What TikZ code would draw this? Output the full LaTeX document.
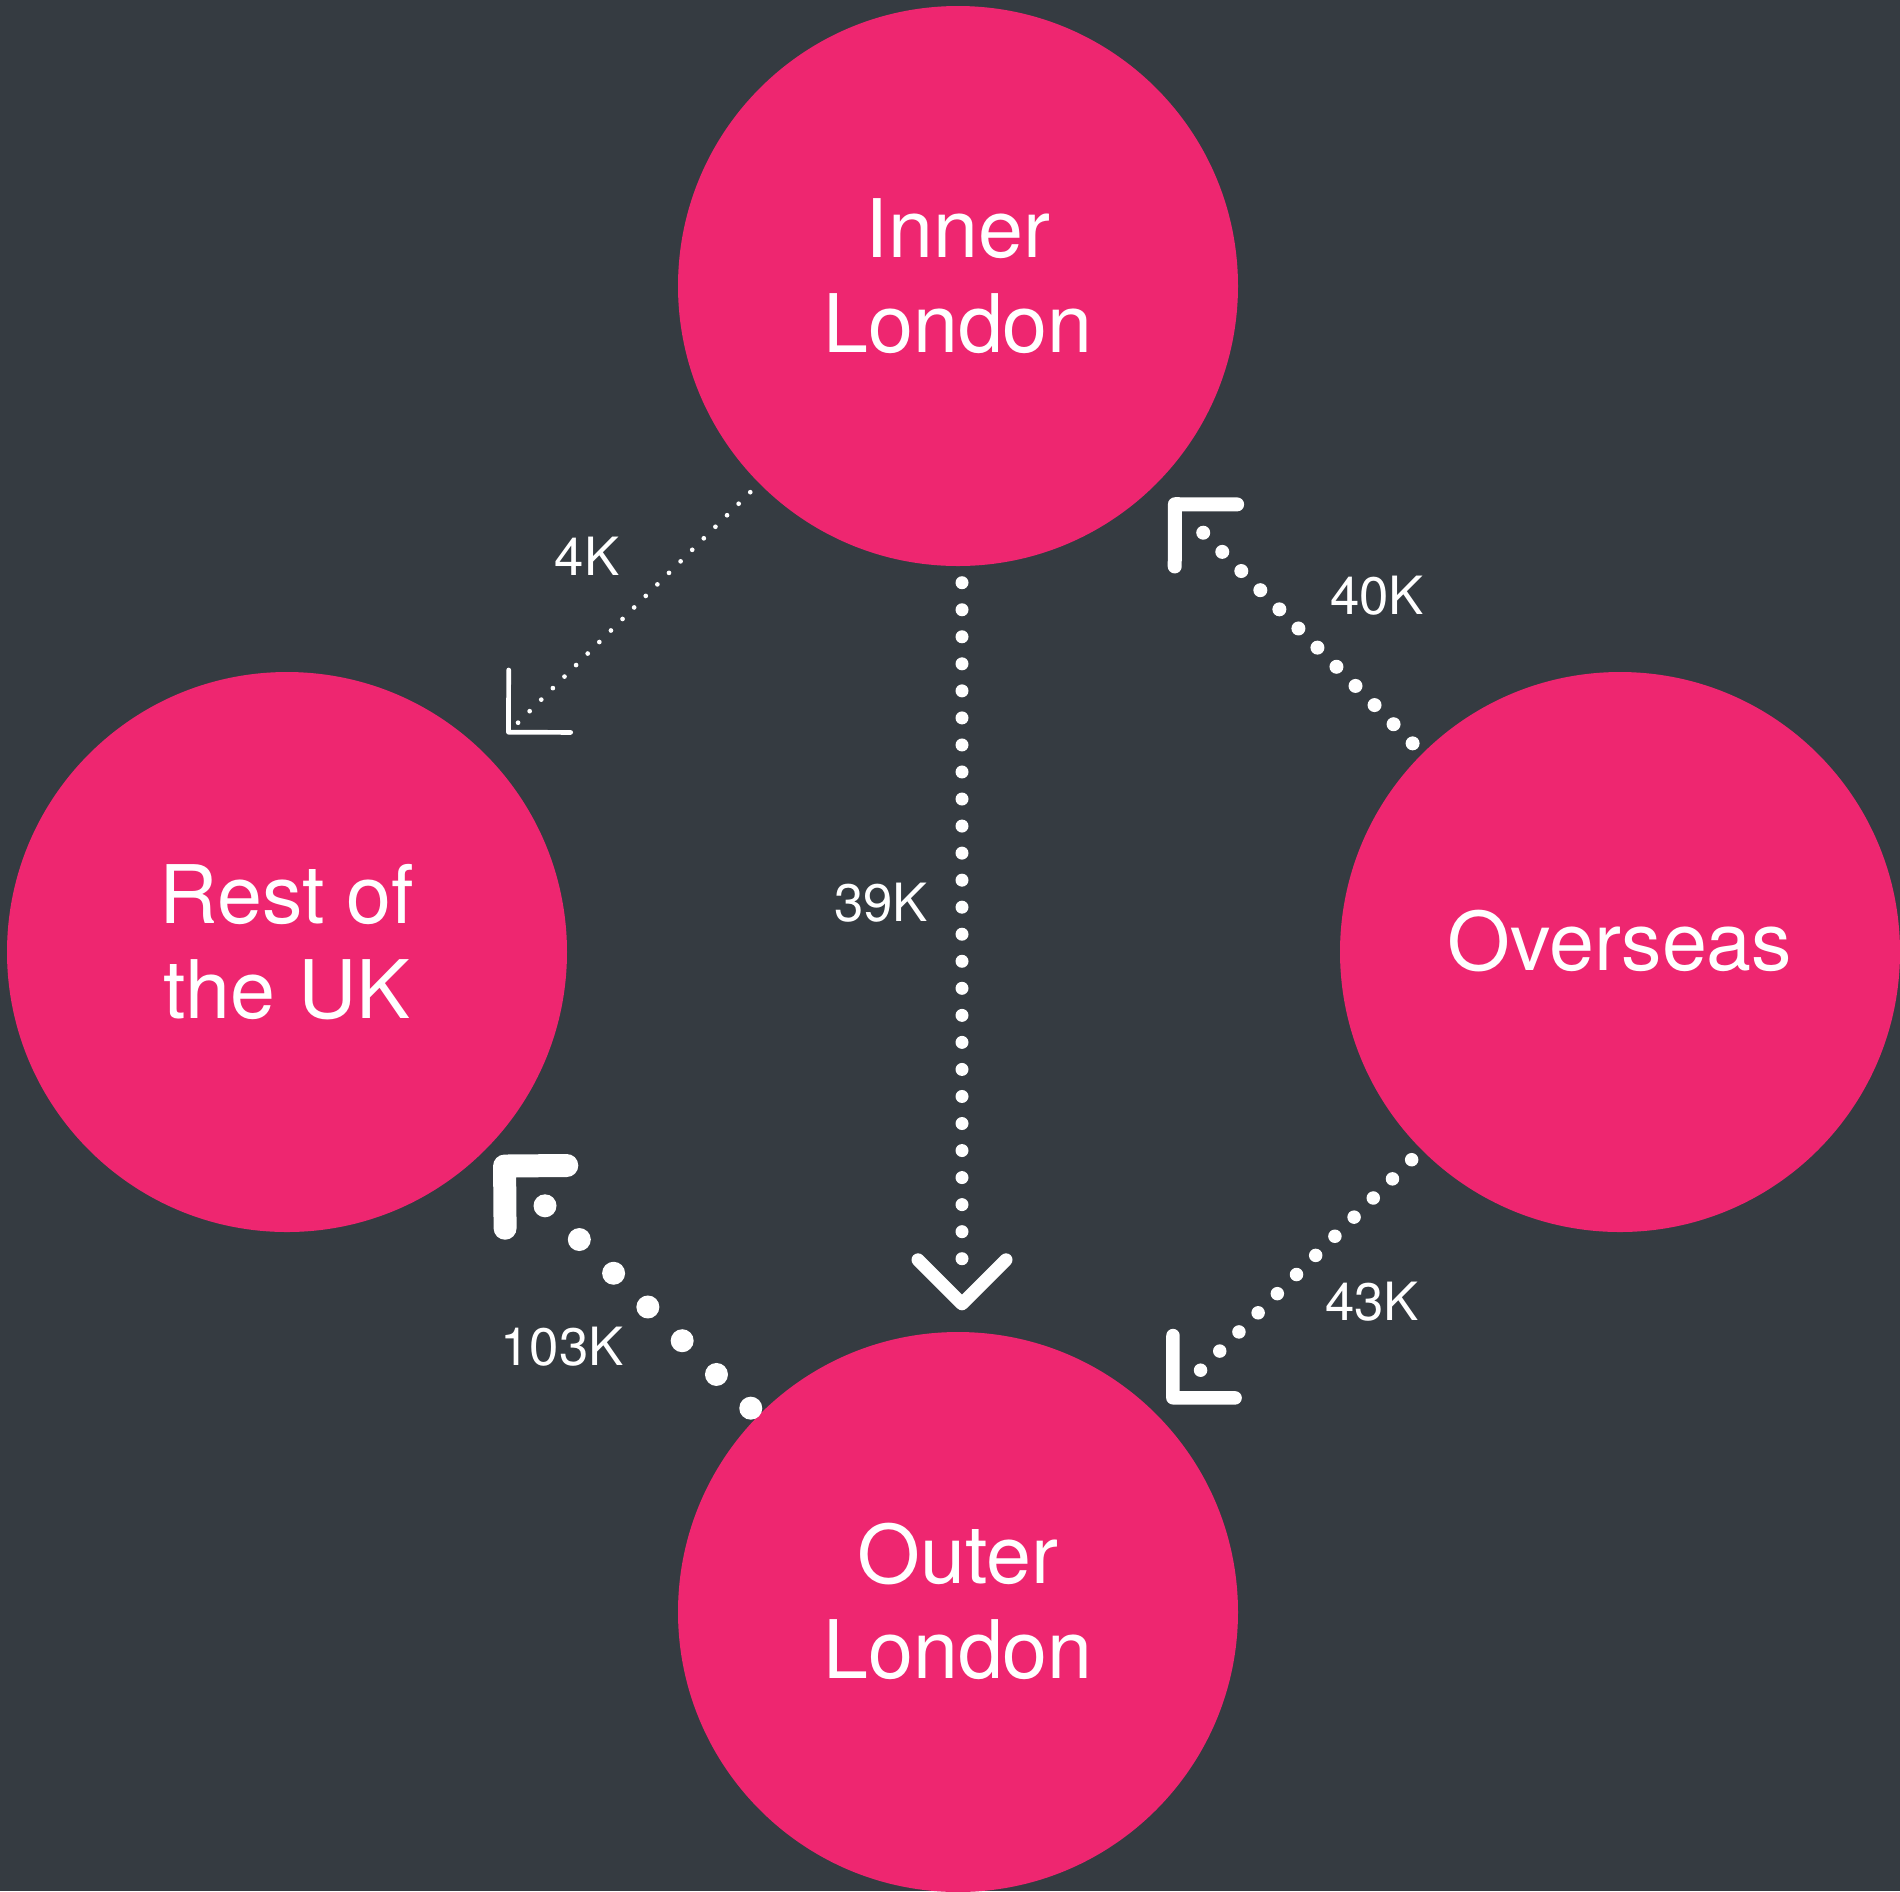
\documentclass[tikz,border=0pt]{standalone}
\usepackage{fontspec}
\setmainfont{TeX Gyre Heros}
\usetikzlibrary{arrows.meta}
\definecolor{slate}{HTML}{353B41}
\definecolor{rosepink}{HTML}{EE2670}
\tikzset{
  region/.style  = {shape=circle, fill=rosepink, minimum size=56mm,
                    inner sep=0pt, text=white, align=center,
                    font=\fontsize{23}{27}\selectfont},
  amount/.style  = {text=white, inner sep=0pt, font=\fontsize{15}{18}\selectfont},
  flow/.style n args = {5}{draw=white, line cap=round, line width=#1,
                    dash pattern=on 0pt off #2, shorten <=#3, shorten >=#4,
                    postaction={draw, line cap=butt, dash pattern=on 0pt off 100cm,
                                dash phase=1pt, shorten >=#5,
                                -{Straight Barb[round, length=4.4mm, width=8.8mm]}}}
}

\begin{document}
\begin{tikzpicture}
  [
    x = 0.1mm,
    y = -0.1mm
  ]
  \fill [slate] (0,0) rectangle (1900,1891);
  \useasboundingbox (0,0) rectangle (1900,1891);

  \node [region] (inner)    at (958,286)  {\strut Inner\\London\strut};
  \node [region] (rest)     at (287,952)  {\strut Rest of\\the UK\strut};
  \node [region] (overseas) at (1620,952) {\strut Overseas};
  \node [region] (outer)    at (958,1612) {\strut Outer\\London\strut};

  \draw [flow={0.47mm}{1.636mm}{1.2mm}{4.2mm}{2.9mm}] (inner) -- (rest);
  \draw [flow={1.3mm}{2.704mm}{1.6mm}{6.6mm}{2.1mm}]
    ([xshift=0.4mm]inner.south) -- ([xshift=0.4mm]outer.north);
  \draw [flow={1.4mm}{2.7mm}{1.35mm}{6.2mm}{2mm}] (overseas) -- (inner);
  \draw [flow={1.35mm}{2.71mm}{1.35mm}{5.7mm}{1.6mm}] (overseas) -- (outer);
  \draw [flow={2.3mm}{4.81mm}{1mm}{6.8mm}{1.3mm}] (outer) -- (rest);

  \node [amount] (n4)   at (587,556)  {4K};
  \node [amount] (n39)  at (881,903)  {39K};
  \node [amount] (n40)  at (1377,596) {40K};
  \node [amount] (n43)  at (1372,1302) {43K};
  \node [amount] (n103) at (562,1347) {103K};
\end{tikzpicture}
\end{document}
